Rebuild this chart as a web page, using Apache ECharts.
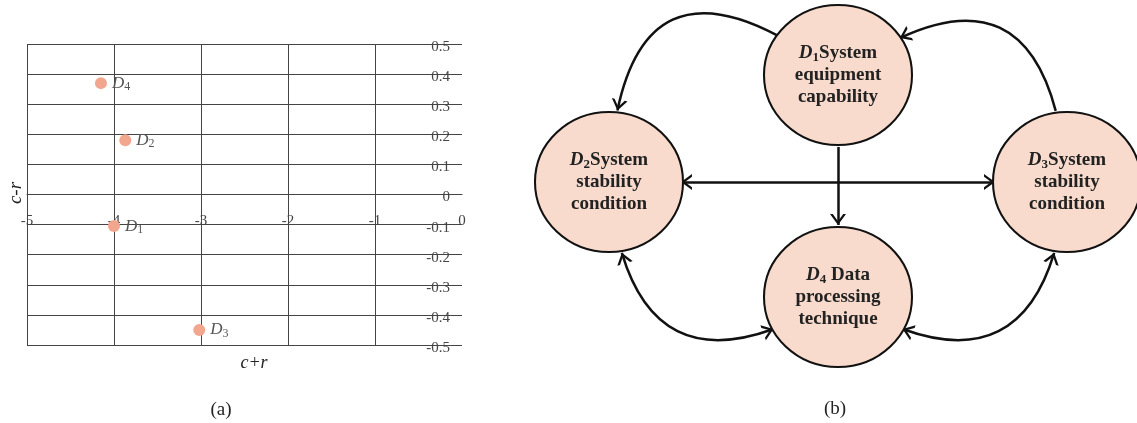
<!DOCTYPE html>
<html><head><meta charset="utf-8">
<script src="https://cdn.jsdelivr.net/npm/echarts@6/dist/echarts.min.js"></script>
<style>html,body{margin:0;padding:0;background:#fff}#c{width:1137px;height:423px}</style>
</head><body><div id="c"></div>
<script>
// ---- (a) scatter data ----
const pointSubs = ['1', '2', '3', '4'];
const pointX = [-4.00, -3.87, -3.02, -4.15];
const pointY = [-0.105, 0.18, -0.45, 0.37];
const xRange = [-5, 0];
const xStep = 1;
const yRange = [-0.5, 0.5];
const yStep = 0.1;
const xName = 'c+r';
const yName = 'c-r';

// ---- (b) diagram data ----
const nodeNames = ['D1', 'D2', 'D3', 'D4'];
const nodeSubs = ['1', '2', '3', '4'];
const nodeHead = ['System', 'System', 'System', ' Data'];
const nodeLine2 = ['equipment', 'stability', 'stability', 'processing'];
const nodeLine3 = ['capability', 'condition', 'condition', 'technique'];
const edgeFrom = ['D1', 'D3', 'D1', 'D2', 'D2', 'D4'];
const edgeTo = ['D2', 'D1', 'D4', 'D3', 'D4', 'D3'];
const edgeBoth = [false, false, false, true, true, true];

// ---- layout (not data) ----
const nodeLayout = { D1: [0, 1], D2: [-1, 0], D3: [1, 0], D4: [0, -1.075] };
const edgeCurve = [-0.95, -0.88, 0, 0, -0.8, -0.8];

const SERIF = '"Liberation Serif", "Times New Roman", serif';
const ARROW = 'path://M8,11 L16,22 L13.2,22 L8,14.9 L2.8,22 L0,22 Z M8,0 L8.01,0 L8,0.01 Z';
const NOSYM = 'path://M0,0 L1,0 L1,1 Z';

const scatterData = pointX.map((x, i) => ({ value: [x, pointY[i]], sub: pointSubs[i] }));

const nodes = nodeNames.map((n, i) => ({
  name: n,
  value: nodeLayout[n],
  label: { formatter: '{d|D}{s|' + nodeSubs[i] + '}{b|' + nodeHead[i] + '}\n{b|' + nodeLine2[i] + '}\n{b|' + nodeLine3[i] + '}' }
}));
const links = edgeFrom.map((f, i) => ({
  source: f, target: edgeTo[i],
  symbol: [edgeBoth[i] ? ARROW : NOSYM, ARROW],
  symbolSize: [edgeBoth[i] ? [16, 22] : [0.5, 0.5], [16, 22]],
  lineStyle: { curveness: edgeCurve[i] }
}));

const chart = echarts.init(document.getElementById('c'), null, { renderer: 'canvas' });
chart.setOption({
  animation: false,
  backgroundColor: '#fff',
  grid: [
    { left: 27, top: 44, width: 435, height: 301, outerBoundsMode: 'none', containLabel: false },
    { left: 563.2, right: 24.2, top: 53.6, bottom: 112.6, outerBoundsMode: 'none', containLabel: false }
  ],
  xAxis: [
    {
      gridIndex: 0, type: 'value', min: xRange[0], max: xRange[1], interval: xStep,
      position: 'bottom', offset: -150.5,
      axisLine: { show: true, onZero: false, lineStyle: { color: '#444', width: 1 } },
      axisTick: { show: false },
      axisLabel: { color: '#444', fontFamily: SERIF, fontSize: 15, margin: 19 },
      splitLine: { show: true, showMaxLine: false, lineStyle: { color: '#444', width: 1 } }
    },
    { gridIndex: 1, type: 'value', min: -1.2, max: 1.2, show: false }
  ],
  yAxis: [
    {
      gridIndex: 0, type: 'value', min: yRange[0], max: yRange[1], interval: yStep, position: 'right',
      axisLine: { show: false, onZero: false },
      axisTick: { show: false },
      axisLabel: { inside: true, margin: 12,
        formatter: v => '{v|' + (Math.round(v * 10) / 10).toString() + '}',
        rich: { v: { color: '#444', fontFamily: SERIF, fontSize: 15, padding: [6, 0, 0, 0] } } },
      splitLine: { show: true, lineStyle: { color: '#444', width: 1 } }
    },
    { gridIndex: 1, type: 'value', min: -1.2, max: 1.2, show: false }
  ],
  graphic: [
    { type: 'text', x: 16, y: 193, rotation: Math.PI / 2, style: { text: yName, font: 'italic 19px ' + SERIF, fill: '#222', align: 'center', verticalAlign: 'middle' } },
    { type: 'text', x: 254, y: 363, style: { text: xName, font: 'italic 18px ' + SERIF, fill: '#222', align: 'center', verticalAlign: 'middle' } },
    { type: 'text', x: 221, y: 410, style: { text: '(a)', font: '19px ' + SERIF, fill: '#222', align: 'center', verticalAlign: 'middle' } },
    { type: 'text', x: 835, y: 409, style: { text: '(b)', font: '19px ' + SERIF, fill: '#222', align: 'center', verticalAlign: 'middle' } }
  ],
  series: [
    {
      type: 'scatter', xAxisIndex: 0, yAxisIndex: 0,
      symbolSize: 12,
      itemStyle: { color: '#F2A68E', opacity: 1 },
      data: scatterData,
      label: {
        show: true, position: 'right', distance: 5,
        formatter: p => '{d|D}{s|' + p.data.sub + '}',
        rich: {
          d: { fontFamily: SERIF, fontStyle: 'italic', fontSize: 17, color: '#555', lineHeight: 20 },
          s: { fontFamily: SERIF, fontSize: 12, color: '#555', lineHeight: 12, verticalAlign: 'bottom' }
        }
      },
      z: 5
    },
    {
      type: 'graph', coordinateSystem: 'cartesian2d', xAxisIndex: 1, yAxisIndex: 1,
      layout: 'none', roam: false, silent: true,
      symbol: 'circle', symbolSize: [148, 140],
      itemStyle: { color: '#F8DBCC', borderColor: '#111', borderWidth: 2 },
      lineStyle: { color: '#111', width: 2.5, opacity: 1 },
      label: {
        show: true, position: 'inside', align: 'center',
        rich: {
          d: { fontFamily: SERIF, fontSize: 19, fontWeight: 'bold', fontStyle: 'italic', color: '#222', lineHeight: 22 },
          s: { fontFamily: SERIF, fontSize: 13, fontWeight: 'bold', color: '#222', lineHeight: 14, verticalAlign: 'bottom' },
          b: { fontFamily: SERIF, fontSize: 19, fontWeight: 'bold', color: '#222', lineHeight: 22 }
        }
      },
      data: nodes,
      links: links
    }
  ]
});
</script></body></html>
